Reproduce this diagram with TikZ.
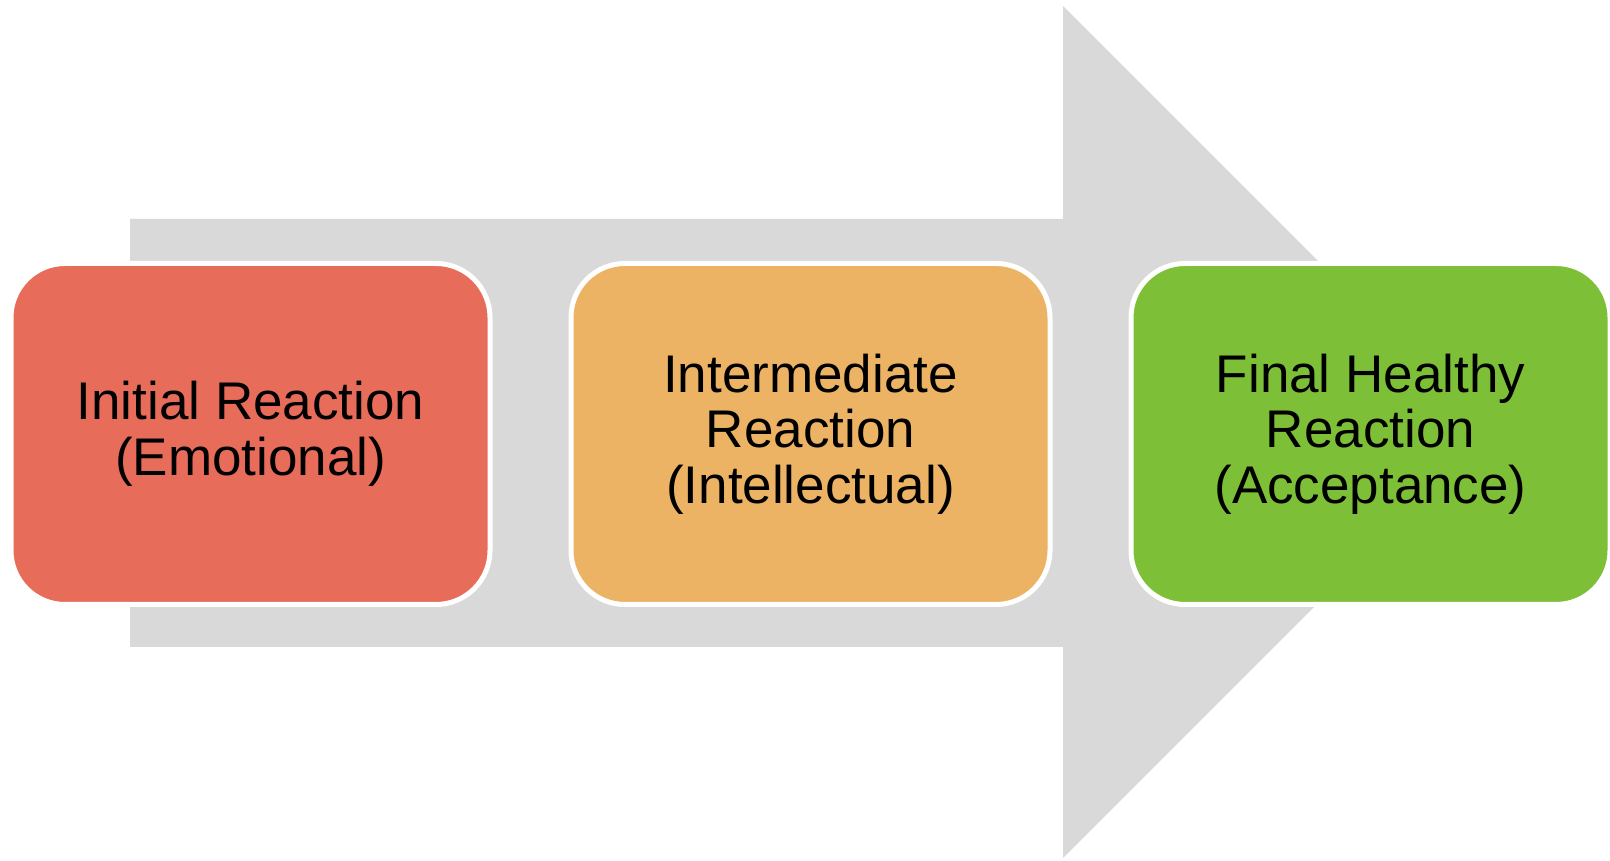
\documentclass[tikz,border=0pt]{standalone}
\usepackage{fontspec}
\setmainfont{Liberation Sans}
\usepackage{xcolor}
\usepackage{tikz}
\usetikzlibrary{positioning}
\definecolor{ArrowGray}{HTML}{D9D9D9}
\definecolor{StageRed}{HTML}{E76C5A}
\definecolor{StageOrange}{HTML}{ECB365}
\definecolor{StageGreen}{HTML}{7DBF36}

\begin{document}
\begin{tikzpicture}[
  x=1pt,y=1pt,
  node distance=76pt,
  stage/.style={draw=white,line width=5pt,rounded corners=54pt,minimum width=479pt,minimum height=341pt,align=center,font=\fontsize{53}{55.5}\selectfont,inner sep=0pt}
]
\useasboundingbox (0,0) rectangle (1610,861);
% background arrow
\fill[ArrowGray] (130,642) -- (1063,642) -- (1063,855) -- (1489,429) -- (1063,3) -- (1063,214) -- (130,214) -- cycle;
\node[stage,fill=StageRed] (initial) at (250.5,427) {Initial Reaction\\(Emotional)};
\node[stage,fill=StageOrange,right=of initial] (inter) {Intermediate\\Reaction\\(Intellectual)};
\node[stage,fill=StageGreen,right=of inter] (final) {Final Healthy\\Reaction\\(Acceptance)};
\end{tikzpicture}
\end{document}
